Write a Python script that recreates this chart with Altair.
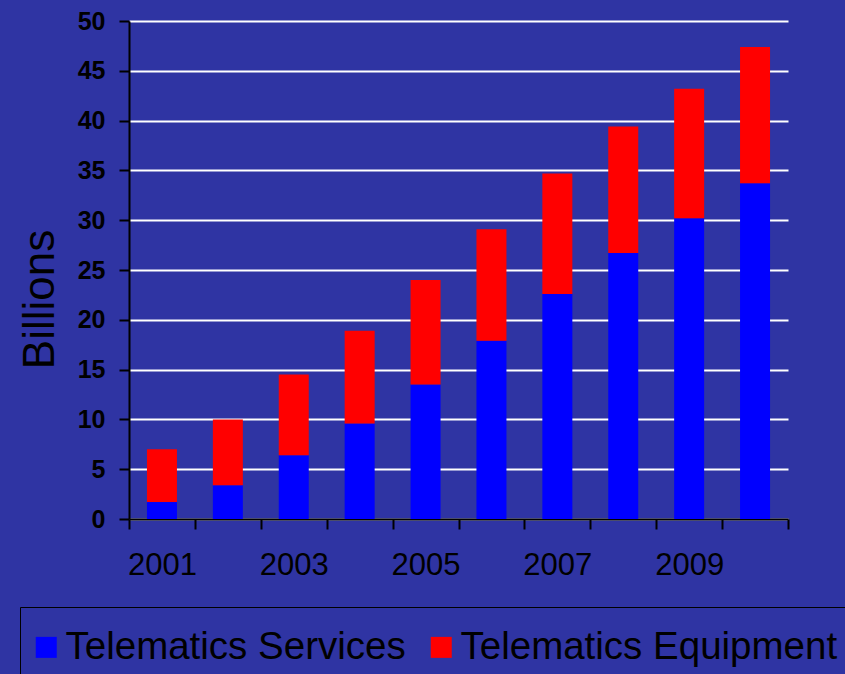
import altair as alt
import pandas as pd

years = ["2001", "2002", "2003", "2004", "2005", "2006", "2007", "2008", "2009", "2010"]
services = [1.7, 3.4, 6.4, 9.6, 13.5, 17.9, 22.6, 26.7, 30.2, 33.7]
equipment = [5.3, 6.6, 8.1, 9.3, 10.5, 11.2, 12.1, 12.7, 13.0, 13.7]
series = ["Telematics Services", "Telematics Equipment"]
colors = ["#0000ff", "#ff0000"]
y_ticks = [0, 5, 10, 15, 20, 25, 30, 35, 40, 45, 50]

rows = []
for i, yr in enumerate(years):
    rows.append({"year": yr, "series": series[0], "value": services[i], "k": 0})
    rows.append({"year": yr, "series": series[1], "value": equipment[i], "k": 1})
df = pd.DataFrame(rows)

FONT = "Liberation Sans, Arial, sans-serif"
BG = "#2f34a3"

chart = alt.Chart(df).mark_bar(size=30).encode(
    x=alt.X(
        "year:O",
        title=None,
        scale=alt.Scale(paddingInner=0, paddingOuter=0),
        axis=alt.Axis(
            labelExpr="toNumber(datum.value) % 2 == 1 ? datum.value : ''",
            labelAngle=0,
            labelFontSize=31,
            labelFont=FONT,
            labelColor="black",
            labelPadding=21,
            labelOverlap=False,
            tickBand="extent",
            tickSize=10,
            tickWidth=2,
            tickColor="black",
            domainColor="black",
            domainWidth=2,
            grid=False,
        ),
    ),
    y=alt.Y(
        "value:Q",
        stack="zero",
        scale=alt.Scale(domain=[0, 50], nice=False),
        axis=alt.Axis(
            values=y_ticks,
            title="Billions",
            titleFont=FONT,
            titleFontSize=44,
            titleFontWeight="normal",
            titleColor="black",
            titleAngle=270,
            titleX=-76,
            titleY=278,
            titleAlign="center",
            titleBaseline="alphabetic",
            labelFont=FONT,
            labelFontSize=25,
            labelFontWeight="bold",
            labelColor="black",
            labelPadding=14,
            tickSize=10,
            tickWidth=2,
            tickColor="black",
            domainColor="black",
            domainWidth=2,
            grid=True,
            gridColor="white",
            gridWidth=2,
            gridOpacity=1,
        ),
    ),
    color=alt.Color(
        "series:N",
        scale=alt.Scale(domain=series, range=colors),
        legend=alt.Legend(
            title=None,
            orient="none",
            legendX=-109,
            legendY=586,
            direction="horizontal",
            symbolType="square",
            symbolSize=441,
            symbolStrokeWidth=0,
            symbolOpacity=1,
            symbolOffset=-14,
            labelFont=FONT,
            labelFontSize=38.5,
            labelColor="black",
            labelLimit=600,
            labelOffset=0,
            columnPadding=24,
            padding=21,
            strokeColor="black",
        ),
    ),
    order=alt.Order("k:Q", sort="ascending"),
).properties(
    width=659,
    height=498,
    autosize=alt.AutoSizeParams(type="none"),
    padding={"left": 129, "top": 21, "right": 57, "bottom": 155},
).configure(
    background=BG,
).configure_view(
    stroke=None,
)

chart.save("out.html", embed_options={"renderer": "svg", "actions": False})
